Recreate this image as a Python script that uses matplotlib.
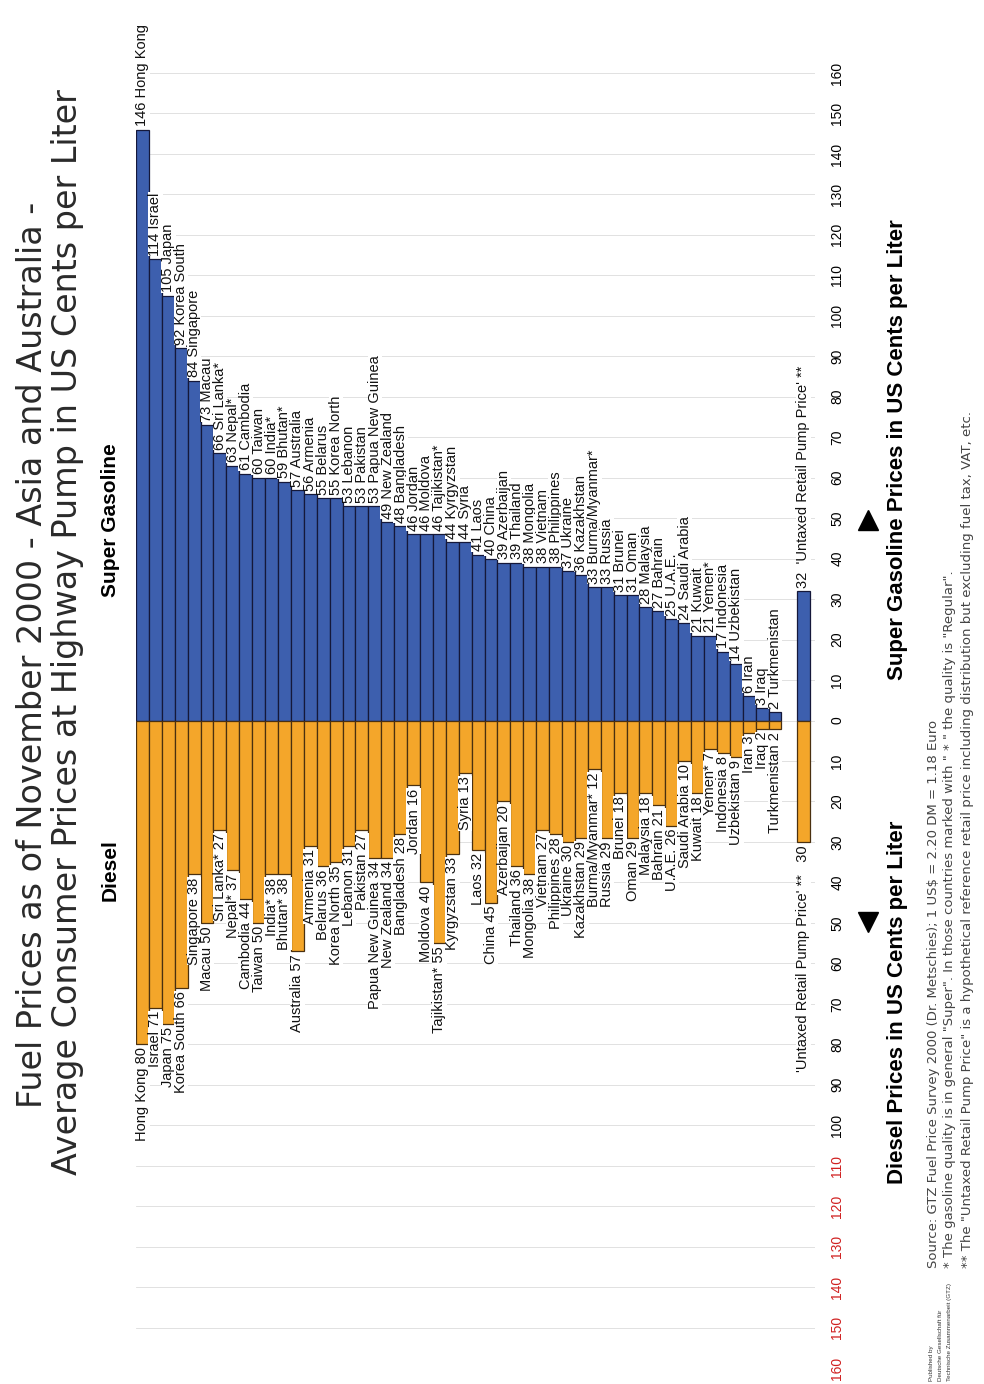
import numpy as np
import matplotlib.pyplot as plt

# countries in chart order (sorted by super gasoline price)
countries = ['Hong Kong', 'Israel', 'Japan', 'Korea South', 'Singapore', 'Macau',
             'Sri Lanka*', 'Nepal*', 'Cambodia', 'Taiwan', 'India*', 'Bhutan*',
             'Australia', 'Armenia', 'Belarus', 'Korea North', 'Lebanon', 'Pakistan',
             'Papua New Guinea', 'New Zealand', 'Bangladesh', 'Jordan', 'Moldova',
             'Tajikistan*', 'Kyrgyzstan', 'Syria', 'Laos', 'China', 'Azerbaijan',
             'Thailand', 'Mongolia', 'Vietnam', 'Philippines', 'Ukraine', 'Kazakhstan',
             'Burma/Myanmar*', 'Russia', 'Brunei', 'Oman', 'Malaysia', 'Bahrain',
             'U.A.E.', 'Saudi Arabia', 'Kuwait', 'Yemen*', 'Indonesia', 'Uzbekistan',
             'Iran', 'Iraq', 'Turkmenistan']
gasoline = [146, 114, 105, 92, 84, 73, 66, 63, 61, 60, 60, 59, 57, 56, 55, 55, 53, 53,
            53, 49, 48, 46, 46, 46, 44, 44, 41, 40, 39, 39, 38, 38, 38, 37, 36, 33, 33,
            31, 31, 28, 27, 25, 24, 21, 21, 17, 14, 6, 3, 2]
diesel = [80, 71, 75, 66, 38, 50, 27, 37, 44, 50, 38, 38, 57, 31, 36, 35, 31, 27,
          34, 34, 28, 16, 40, 55, 33, 13, 32, 45, 20, 36, 38, 27, 28, 30, 29, 12, 29,
          18, 29, 18, 21, 26, 10, 18, 7, 8, 9, 3, 2, 2]

untaxed_label = "'Untaxed Retail Pump Price' **"
untaxed_gasoline = 32
untaxed_diesel = 30

tick_values = list(range(-160, 161, 10))

plt.rcParams['font.family'] = ['Liberation Sans', 'DejaVu Sans']

W, H = 984, 1384
fig = plt.figure(figsize=(W / 100, H / 100), dpi=100)


def fx(px):
    return px / W


def fy(py):
    return 1 - py / H


ax = fig.add_axes([fx(136), fy(1368), fx(815) - fx(136), fy(73) - fy(1368)])

blue = '#3d5fae'
orange = '#f4a62a'

x = np.arange(len(countries))
ax.bar(x, gasoline, width=1.0, color=blue, edgecolor='#15183a', linewidth=0.9)
ax.bar(x, [-d for d in diesel], width=1.0, color=orange, edgecolor='#4a3010', linewidth=0.9)

ux = len(countries) + 1.2
ax.bar(ux, untaxed_gasoline, width=1.0, color=blue, edgecolor='#15183a', linewidth=0.9)
ax.bar(ux, -untaxed_diesel, width=1.0, color=orange, edgecolor='#4a3010', linewidth=0.9)

lab = dict(rotation=90, ha='center', fontsize=10.5, color='#111111',
           bbox=dict(facecolor='white', edgecolor='none', pad=0.2))
for i, (c, g, d) in enumerate(zip(countries, gasoline, diesel)):
    ax.text(i, g + 0.8, f'{g} {c}', va='bottom', **lab)
    ax.text(i, -d - 0.8, f'{c} {d}', va='top', **lab)
ax.text(ux, untaxed_gasoline + 0.8, f'{untaxed_gasoline}  {untaxed_label}', va='bottom', **lab)
ax.text(ux, -untaxed_diesel - 0.8, f'{untaxed_label}   {untaxed_diesel}', va='top', **lab)

ax.set_xlim(-0.5, 52.1)
ax.set_ylim(-160, 160)
ax.set_yticks(tick_values)
ax.set_yticklabels([str(abs(v)) for v in tick_values])
ax.yaxis.tick_right()
ax.tick_params(axis='y', length=0, pad=11, labelrotation=90, labelsize=10)
for v, t in zip(tick_values, ax.get_yticklabels()):
    t.set_va('center')
    if v <= -110:
        t.set_color('#d02020')
ax.set_xticks([])
ax.yaxis.grid(True, color='#dcdcdc', linewidth=0.6)
ax.set_axisbelow(True)
for s in ax.spines.values():
    s.set_visible(False)

# titles
title_font = dict(rotation=90, ha='center', va='center', fontsize=24,
                  color='#2a2a2a', family='DejaVu Sans')
fig.text(fx(33), fy(655), 'Fuel Prices as of November 2000 - Asia and Australia -', **title_font)
fig.text(fx(68), fy(632), 'Average Consumer Prices at Highway Pump in US Cents per Liter',
         **title_font)
fig.text(fx(110), fy(520), 'Super Gasoline', rotation=90, ha='center', va='center',
         fontsize=15, fontweight='bold')
fig.text(fx(110), fy(870), 'Diesel', rotation=90, ha='center', va='center',
         fontsize=15, fontweight='bold')

# axis captions with arrows
fig.text(fx(897), fy(450), 'Super Gasoline Prices in US Cents per Liter', rotation=90,
         ha='center', va='center', fontsize=16, fontweight='bold')
fig.text(fx(897), fy(1002), 'Diesel Prices in US Cents per Liter', rotation=90,
         ha='center', va='center', fontsize=16, fontweight='bold')
fig.add_artist(plt.Line2D([fx(868)], [fy(520)], marker='^', markersize=15,
                          color='black', transform=fig.transFigure))
fig.add_artist(plt.Line2D([fx(868)], [fy(922)], marker='v', markersize=15,
                          color='black', transform=fig.transFigure))

# footnotes
notes = [
    'Source: GTZ Fuel Price Survey 2000 (Dr. Metschies); 1 US$ = 2.20 DM = 1.18 Euro',
    "* The gasoline quality is in general \"Super\". In those countries marked with \" * \" the quality is \"Regular\".",
    "** The \"Untaxed Retail Pump Price\" is a hypothetical reference retail price including distribution but excluding fuel tax, VAT, etc.",
]
for k, n in enumerate(notes):
    fig.text(fx(933 + 17 * k), fy(1268), n, rotation=90, ha='center', va='bottom',
             fontsize=9.5, color='#444444', family='DejaVu Sans')

publisher = ['Published by', 'Deutsche Gesellschaft für', 'Technische Zusammenarbeit (GTZ)']
for k, p in enumerate(publisher):
    fig.text(fx(931 + 9 * k), fy(1381), p, rotation=90, ha='center', va='bottom',
             fontsize=4.5, color='#333333')

fig.savefig('out.png', dpi=100)
